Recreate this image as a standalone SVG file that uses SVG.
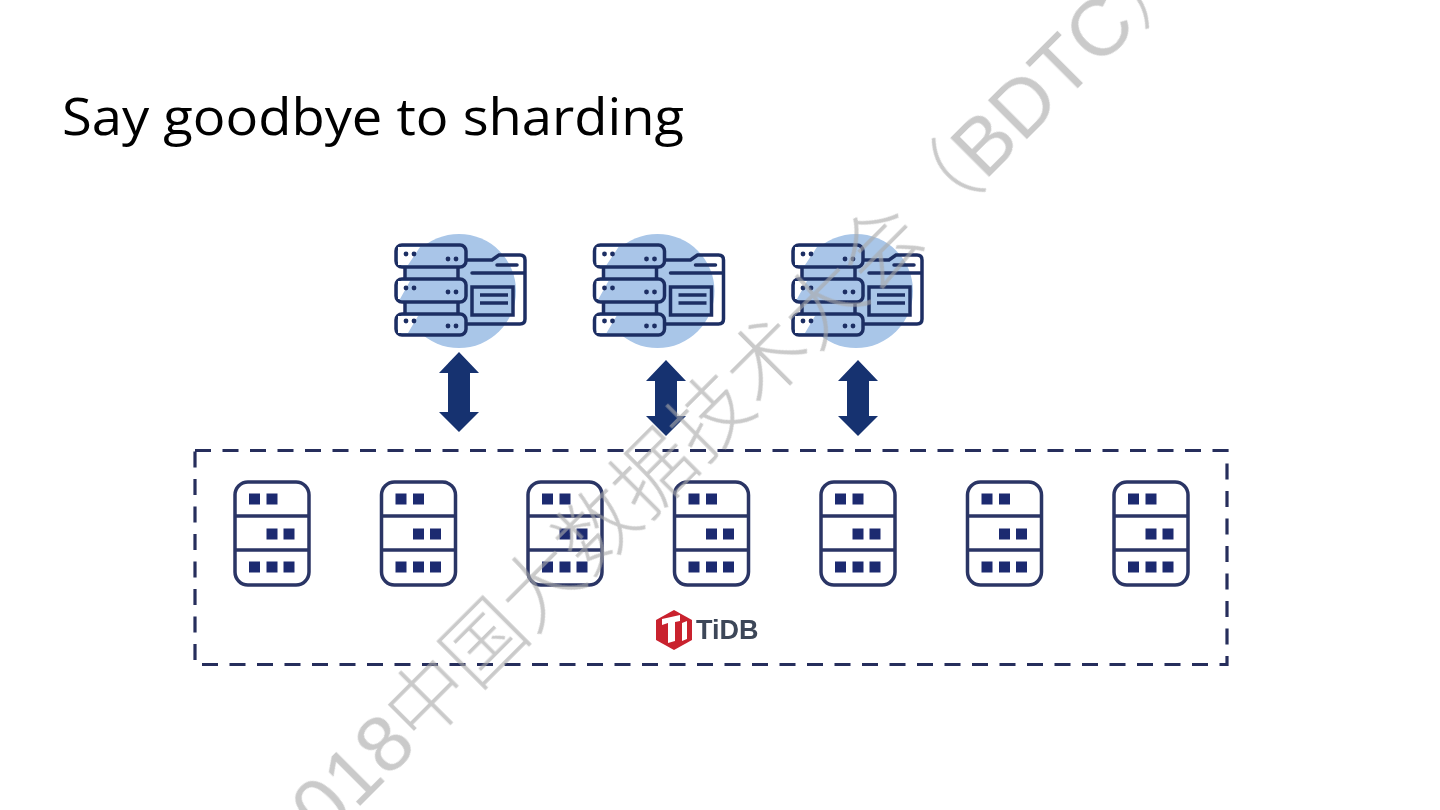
<svg xmlns="http://www.w3.org/2000/svg" xmlns:xlink="http://www.w3.org/1999/xlink" width="1440" height="810" viewBox="0 0 1440 810">
<style>
.title{font-family:"Open Sans","Noto Sans",sans-serif;font-size:52px;fill:#000}
.mark{font-family:"Liberation Sans","Noto Sans CJK SC",sans-serif;font-size:80px;font-weight:300;fill:#aaa;fill-opacity:.62}
.tidb{font-family:"Liberation Sans",Arial,sans-serif;font-weight:700;font-size:27px;fill:#3c4658}
.ln{fill:none;stroke:#1f2f63;stroke-width:3.5}
.fl{fill:#a9c5e8;stroke:#1f2f63;stroke-width:3.5}
.dk{fill:#1f2f63}
.u{fill:#fff;stroke:#2b3565;stroke-width:3.5}
.ul{stroke:#2b3565;stroke-width:3.5}
.d{fill:#1e2a70}
.a{fill:#16306f}
</style>
<defs>
<filter id="s" x="-5%" y="-5%" width="110%" height="110%"><feGaussianBlur stdDeviation="0.6"/></filter>
<g id="cluster">
  <circle cx="459" cy="291" r="57" fill="#a9c6e8"/>
  <path class="ln" d="M466 260H492L499 255H520Q525 255 525 260V319Q525 324 520 324H466"/>
  <path class="ln" d="M472 273H524M497 265H517" stroke-linecap="round"/>
  <rect class="ln" x="472" y="287" width="41" height="28"/>
  <path class="ln" d="M480 295H508M480 303H508" stroke-width="2.5"/>
  <rect class="fl" x="405" y="265" width="53" height="15"/>
  <rect class="fl" x="405" y="301" width="53" height="14"/>
  <rect class="fl" x="396" y="245" width="70" height="22" rx="6"/>
  <rect class="fl" x="396" y="279" width="70" height="23" rx="6"/>
  <rect class="fl" x="396" y="314" width="70" height="21" rx="6"/>
  <path fill="#fff" d="M398 247h22l-12 18h-10zM398 316h20l-10 17h-10zM398 281h12l-10 18h-2z"/>
  <g class="dk"><circle cx="406" cy="254" r="2.4"/><circle cx="414" cy="254" r="2.4"/><circle cx="448" cy="259" r="2.4"/><circle cx="456" cy="259" r="2.4"/>
  <circle cx="406" cy="288" r="2.4"/><circle cx="414" cy="288" r="2.4"/><circle cx="448" cy="292" r="2.4"/><circle cx="456" cy="292" r="2.4"/>
  <circle cx="406" cy="321" r="2.4"/><circle cx="414" cy="321" r="2.4"/><circle cx="448" cy="326" r="2.4"/><circle cx="456" cy="326" r="2.4"/></g>
</g>
<g id="unit">
  <rect class="u" x="235" y="482" width="74" height="103" rx="13"/>
  <path class="ul" d="M235 516H309M235 550H309"/>
  <g class="d"><rect x="249" y="493.500" width="11" height="11"/><rect x="266.500" y="493.500" width="11" height="11"/>
  <rect x="266.500" y="528.500" width="11" height="11"/><rect x="283.500" y="528.500" width="11" height="11"/>
  <rect x="249" y="561.500" width="11" height="11"/><rect x="266.500" y="561.500" width="11" height="11"/><rect x="283.500" y="561.500" width="11" height="11"/></g>
</g>
</defs>
<rect width="1440" height="810" fill="#fff"/>
<text id="title" class="title" x="62" y="135" textLength="622" lengthAdjust="spacingAndGlyphs">Say goodbye to sharding</text>
<g filter="url(#s)">
<g id="clusters">
  <g id="cluster-1"><use xlink:href="#cluster" href="#cluster"/></g>
  <g id="cluster-2"><use xlink:href="#cluster" href="#cluster" x="198.5"/></g>
  <g id="cluster-3"><use xlink:href="#cluster" href="#cluster" x="397"/></g>
</g>
<g id="connectors">
  <path class="a" d="M459 352L479 373H470V412H479L459 432L439 412H448V373H439Z"/>
  <path class="a" d="M666 360L686 381H677V416H686L666 436L646 416H655V381H646Z"/>
  <path class="a" d="M858 360L878 381H869V416H878L858 436L838 416H847V381H838Z"/>
</g>
<g id="tidb-cluster">
  <rect id="boundary" x="195" y="450.500" width="1032" height="214" fill="none" stroke="#252e5c" stroke-width="3.200" stroke-dasharray="16 11.500"/>
  <g id="server-1"><use xlink:href="#unit" href="#unit"/></g>
  <g id="server-2"><use xlink:href="#unit" href="#unit" x="146.500"/></g>
  <g id="server-3"><use xlink:href="#unit" href="#unit" x="293"/></g>
  <g id="server-4"><use xlink:href="#unit" href="#unit" x="439.500"/></g>
  <g id="server-5"><use xlink:href="#unit" href="#unit" x="586"/></g>
  <g id="server-6"><use xlink:href="#unit" href="#unit" x="732.500"/></g>
  <g id="server-7"><use xlink:href="#unit" href="#unit" x="879"/></g>
  <g id="tidb-logo">
    <path fill="#c9202f" d="M674 610L692 620V640L674 650L656 640V620Z"/>
    <path fill="#fff" d="M662 619L680 615V621L675 622V641L668 643V623L662 625ZM682 623L687 621V639L682 641Z"/>
    <text class="tidb" x="696" y="639">TiDB</text>
  </g>
</g>
</g>
<text id="watermark" class="mark" transform="translate(293 873) rotate(-45)">2018中国大数据技术大会（BDTC）</text>
</svg>
